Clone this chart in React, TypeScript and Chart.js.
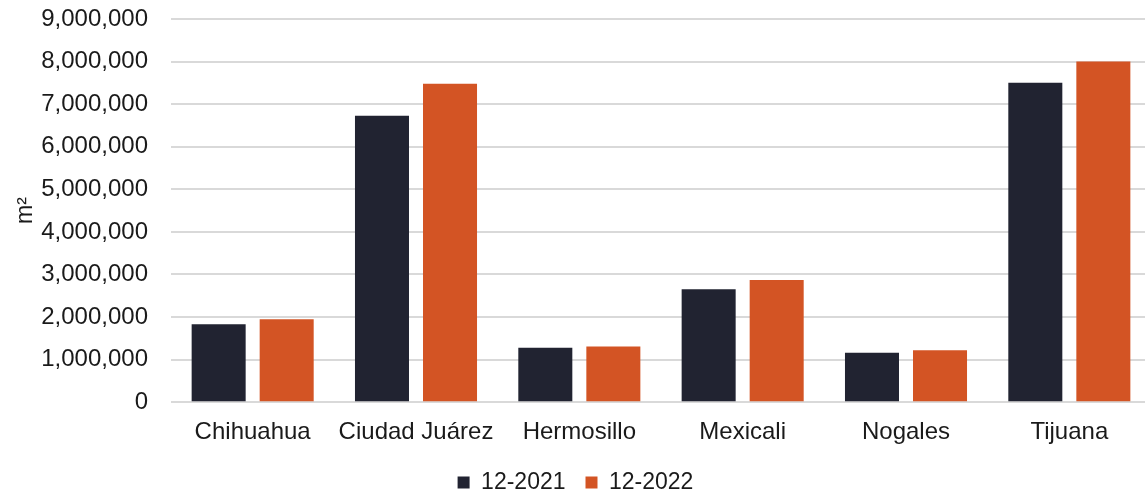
import React, { useEffect, useRef } from "react";
import { Chart, registerables } from "chart.js";

Chart.register(...registerables);

const categories = ["Chihuahua", "Ciudad Juárez", "Hermosillo", "Mexicali", "Nogales", "Tijuana"];
const series2021 = [1830000, 6730000, 1280000, 2650000, 1160000, 7500000];
const series2022 = [1950000, 7480000, 1310000, 2870000, 1220000, 8000000];
const seriesLabels = ["12-2021", "12-2022"];
const seriesColors = ["#212331", "#D35424"];
const yMax = 9000000;
const yStep = 1000000;
const yTitle = "m²";

const FONT = "'Liberation Sans', Arial, sans-serif";

export default function App() {
  const ref = useRef<HTMLCanvasElement | null>(null);

  useEffect(() => {
    if (!ref.current) return;
    const chart = new Chart(ref.current, {
      type: "bar",
      data: {
        labels: categories,
        datasets: [
          { label: seriesLabels[0], data: series2021, backgroundColor: seriesColors[0] },
          { label: seriesLabels[1], data: series2022, backgroundColor: seriesColors[1] },
        ],
      },
      options: {
        animation: false,
        responsive: false,
        maintainAspectRatio: false,
        layout: { padding: { top: 19, right: 0, bottom: -10, left: 0 } },
        datasets: {
          bar: { categoryPercentage: 0.833, barPercentage: 0.794 },
        },
        plugins: {
          tooltip: { enabled: false },
          legend: {
            position: "bottom",
            labels: {
              font: { family: FONT, size: 23 },
              color: "#1a1a1a",
              boxWidth: 12,
              boxHeight: 12,
              padding: 20,
            },
          },
        },
        scales: {
          x: {
            grid: { display: false },
            border: { display: false },
            afterFit: (scale: any) => {
              scale.height -= 4;
            },
            ticks: {
              font: { family: FONT, size: 24 },
              color: "#1a1a1a",
              padding: 8,
              maxRotation: 0,
              autoSkip: false,
            },
          },
          y: {
            min: 0,
            max: yMax,
            afterFit: (scale: any) => {
              scale.width = 171;
            },
            grid: {
              color: "#D9D9D9",
              lineWidth: 2,
              drawTicks: true,
              tickLength: 20,
              tickColor: "rgba(0,0,0,0)",
            },
            border: { display: false },
            ticks: {
              stepSize: yStep,
              font: { family: FONT, size: 24 },
              color: "#1a1a1a",
              padding: 3,
              callback: (v: any) => Number(v).toLocaleString("en-US"),
            },
            title: {
              display: true,
              text: yTitle,
              font: { family: FONT, size: 23 },
              color: "#1a1a1a",
              padding: { top: 12, bottom: 0 },
            },
          },
        },
      },
    });
    return () => chart.destroy();
  }, []);

  return (
    <div style={{ position: "fixed", left: 0, top: 0, width: 1145, height: 494, overflow: "hidden", background: "#fff" }}>
      <canvas ref={ref} width={1151} height={494} style={{ display: "block", width: 1151, height: 494 }} />
    </div>
  );
}
